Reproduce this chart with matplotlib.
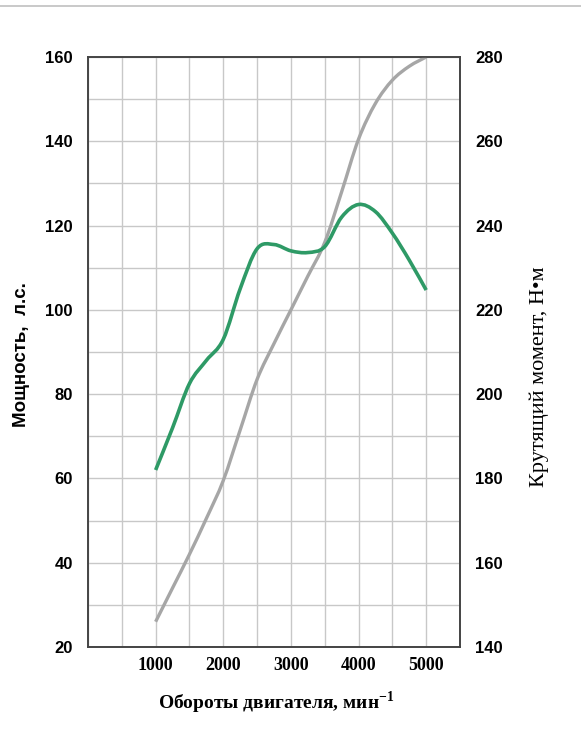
import numpy as np
import matplotlib
matplotlib.use("Agg")
import matplotlib.pyplot as plt
from matplotlib.path import Path
from matplotlib.patches import PathPatch
from matplotlib.lines import Line2D

# engine speed, rpm
rpm = [1000, 1250, 1500, 1750, 2000, 2250, 2500, 2750, 3000,
       3250, 3500, 3750, 4000, 4250, 4500, 4750, 5000]
# power, hp (left axis, gray)
power = [26, 34, 42, 50.5, 59.5, 71.5, 83.5, 92, 100,
         108, 116, 128, 140.5, 149, 154.5, 157.8, 160]
# torque, N*m (right axis, green)
torque = [182, 192, 202.5, 208, 213, 225, 234.5, 235.5, 234,
          233.6, 235, 242, 245, 243.3, 238.2, 231.8, 224.7]

green = "#2e9a66"
gray = "#a6a6a6"


def smooth_path(x, y):
    # Catmull-Rom through the points, as cubic bezier segments
    pts = np.column_stack([x, y]).astype(float)
    verts = [pts[0]]
    codes = [Path.MOVETO]
    n = len(pts)
    for i in range(n - 1):
        p0 = pts[i - 1] if i > 0 else pts[i]
        p1 = pts[i]
        p2 = pts[i + 1]
        p3 = pts[i + 2] if i + 2 < n else pts[i + 1]
        verts += [p1 + (p2 - p0) / 6, p2 - (p3 - p1) / 6, p2]
        codes += [Path.CURVE4] * 3
    return Path(verts, codes)


fig = plt.figure(figsize=(5.81, 7.39), dpi=100)
ax = fig.add_axes([88 / 581, 1 - 647 / 739, 372 / 581, 590 / 739])
ax2 = ax.twinx()

ax.set_xlim(0, 5500)
ax.set_ylim(20, 160)
ax2.set_ylim(140, 280)

ax.set_xticks(np.arange(0, 5501, 500))
ax.set_xticklabels(["" if (v == 0 or v % 1000) else str(v) for v in range(0, 5501, 500)],
                   family="Liberation Serif", fontweight="bold", fontsize=13)
ax.set_yticks(np.arange(20, 161, 20))
ax.set_yticks(np.arange(30, 160, 20), minor=True)
ax.set_yticklabels([str(v) for v in range(20, 161, 20)],
                   family="Liberation Sans", fontweight="bold", fontsize=12)
ax2.set_yticks(np.arange(140, 281, 20))
ax2.set_yticklabels([str(v) for v in range(140, 281, 20)],
                    family="Liberation Sans", fontweight="bold", fontsize=12)

ax.tick_params(axis="both", which="both", length=0)
ax.tick_params(axis="y", pad=11)
ax.tick_params(axis="x", pad=7)
ax2.tick_params(axis="y", length=0, pad=11)

ax.grid(True, which="both", color="#c8c8c8", lw=1)
ax.set_axisbelow(True)
for a in (ax, ax2):
    for s in a.spines.values():
        s.set_color("#444444")
        s.set_linewidth(1.2)

# power is drawn in ax2 (on top) by mapping its left-axis values onto the right axis
pw = np.array(power)
ax2.add_patch(PathPatch(smooth_path(rpm, 140 + (pw - 20)), fill=False, ec=gray, lw=2.4,
                        capstyle="butt", zorder=2))
ax2.add_patch(PathPatch(smooth_path(rpm, torque), fill=False, ec=green, lw=2.6,
                        capstyle="butt", zorder=3))

fig.text(22 / 581, 1 - 355 / 739, "Мощность,  л.с.", rotation=90, ha="center", va="center",
         family="Liberation Sans", fontweight="bold", fontsize=13.5)
fig.text(539 / 581, 1 - 377 / 739, "Крутящий момент, Н•м", rotation=90, ha="center",
         va="center", family="Liberation Serif", fontsize=16)
fig.text(276 / 581, 1 - 703 / 739, "Обороты двигателя, мин$^{\\mathregular{-1}}$",
         ha="center", va="center", family="Liberation Serif", fontweight="bold", fontsize=14)

fig.add_artist(Line2D([0, 1], [1 - 6 / 739, 1 - 6 / 739], color="#c0c0c0", lw=1.2))

fig.savefig("out.png", dpi=100)
